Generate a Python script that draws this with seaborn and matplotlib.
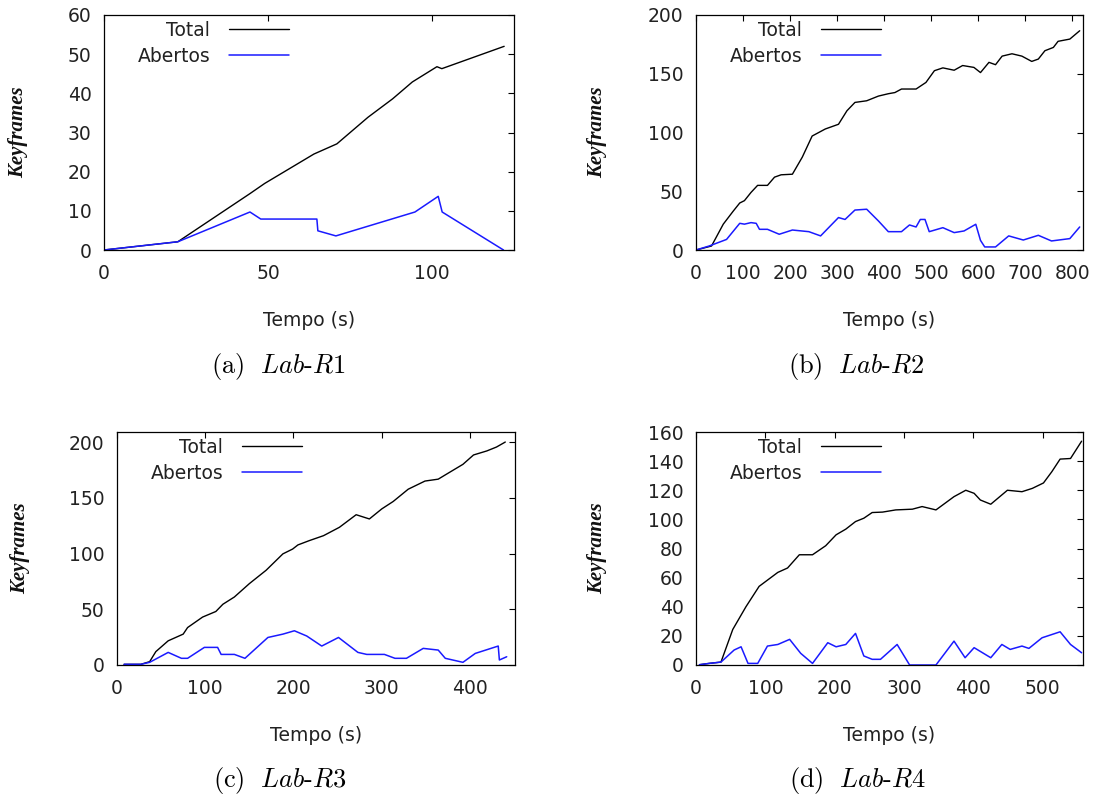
import matplotlib
matplotlib.use("Agg")
import matplotlib.pyplot as plt
import seaborn as sns
import pandas as pd

# ---------------- data ----------------
# (a) Lab-R1
a_time_total = [0, 22.5, 44.5, 49, 64, 71, 80.5, 88, 94, 101.5, 103, 122]
a_total = [0, 2.1, 14.4, 17, 24.5, 27.1, 33.9, 38.6, 42.9, 46.8, 46.3, 52]
a_time_open = [0, 22.5, 44.5, 47.8, 64.9, 65.2, 70.7, 94.8, 101.9, 103.1, 121.8]
a_open = [0, 2.1, 9.7, 7.9, 7.9, 4.9, 3.6, 9.7, 13.7, 9.7, 0]

# (b) Lab-R2
b_time_total = [0, 33, 58, 79, 93, 103, 117, 131, 152, 167, 181, 205, 226, 247, 275,
                303, 321, 338, 363, 388, 409, 423, 437, 468, 489, 507, 525, 549, 567,
                591, 605, 623, 637, 651, 672, 693, 714, 728, 742, 760, 770, 795, 816]
b_total = [0, 3.4, 22, 33, 40, 42, 49, 55, 55, 62, 64, 64.5, 79, 97, 103,
           107, 118.5, 125.6, 127, 131, 133, 134, 137, 137, 142.6, 152.6, 155, 153, 157,
           155.4, 151, 159.7, 157.7, 165, 167, 165, 160.5, 162.5, 169.6, 172.4, 177.6, 179.5, 186.6]
b_time_open = [0, 28, 65, 93, 103, 117, 128, 135, 152, 177, 205, 240, 265, 303, 317,
               338, 363, 388, 409, 437, 454, 468, 477, 487, 496, 525, 549, 570, 595,
               605, 614, 637, 665, 696, 728, 756, 795, 816]
b_open = [0, 3.4, 9, 22.7, 22, 23.3, 22.7, 17.6, 17.6, 13.4, 17, 15.6, 12, 27.6, 26,
          34, 34.7, 24.7, 15.6, 15.6, 21.3, 19.6, 26, 26, 15.6, 19, 14.8, 16.2, 21.9,
          8.2, 2.6, 2.6, 12, 8.5, 12.5, 7.7, 9.7, 19.6]

# (c) Lab-R3
c_time_total = [8, 27, 37, 44, 58, 75, 80, 97, 112, 120, 133, 150, 169, 188, 199, 205,
                218, 234, 252, 271, 286, 300, 313, 330, 349, 364, 373, 392, 404, 419, 430, 440]
c_total = [0.6, 0.6, 3, 12, 21.7, 27.7, 33.6, 43, 48, 54.5, 61, 73, 85, 99.7, 104, 107.7,
           111.6, 116, 123.5, 134.8, 131, 140, 146.7, 157.7, 165, 166.7, 171, 180, 188.4, 192, 195.5, 200]
c_time_open = [8, 27, 37, 58, 73, 80, 99, 114, 118, 133, 145, 171, 188, 201, 215, 232,
               251, 273, 283, 303, 315, 328, 347, 364, 372, 392, 406, 432, 433.3, 441.6]
c_open = [0.6, 0.6, 2.4, 11.3, 6, 6, 15.8, 15.8, 9.5, 9.5, 6, 24.7, 27.7, 30.7, 26, 17,
          24.7, 11.3, 9.5, 9.5, 6, 6, 14.9, 13.4, 6, 2.4, 10.4, 17, 4.5, 7.4]

# (d) Lab-R4
d_time_total = [5, 19, 36, 53, 72, 91, 118, 132, 149, 168, 187, 202, 216, 230, 242, 254,
                269, 288, 312, 326, 346, 372, 389, 401, 410, 425, 449, 470, 485, 501, 513,
                525, 540, 556]
d_total = [0.2, 1.1, 2, 24.4, 40, 54, 63.6, 66.6, 75.7, 75.7, 81.9, 89.4, 93.3, 98.5, 100.8,
           104.7, 105, 106.5, 107, 108.8, 106.5, 115.6, 120, 117.9, 113.3, 110.4, 120, 119,
           121.3, 125, 132.7, 141.4, 141.8, 153.7]
d_time_open = [5, 19, 36, 55, 65, 75, 89, 103, 118, 135, 151, 168, 190, 202, 216, 230, 242,
               254, 266, 290, 308, 346, 372, 388, 401, 425, 441, 453, 470, 480, 499, 525, 540, 556]
d_open = [0.2, 1.1, 2, 10.3, 12.5, 1.1, 1.1, 13, 14.1, 17.6, 8, 1.1, 15.3, 12.5, 14.1, 21.7,
          6.2, 3.9, 3.9, 14.1, 0, 0, 16.4, 5, 11.9, 5, 14.1, 10.7, 13, 11.4, 18.7, 22.8, 14.1, 8.4]

panels = [
    dict(tt=a_time_total, t=a_total, to=a_time_open, o=a_open, xlim=(0, 125), ylim=(0, 60),
         xticks=[0, 50, 100], yticks=[0, 10, 20, 30, 40, 50, 60], cap="(a)", sub="R1"),
    dict(tt=b_time_total, t=b_total, to=b_time_open, o=b_open, xlim=(0, 823), ylim=(0, 200),
         xticks=[0, 100, 200, 300, 400, 500, 600, 700, 800], yticks=[0, 50, 100, 150, 200],
         cap="(b)", sub="R2"),
    dict(tt=c_time_total, t=c_total, to=c_time_open, o=c_open, xlim=(0, 451), ylim=(0, 209),
         xticks=[0, 100, 200, 300, 400], yticks=[0, 50, 100, 150, 200], cap="(c)", sub="R3"),
    dict(tt=d_time_total, t=d_total, to=d_time_open, o=d_open, xlim=(0, 558), ylim=(0, 160),
         xticks=[0, 100, 200, 300, 400, 500], yticks=list(range(0, 161, 20)), cap="(d)", sub="R4"),
]

series_labels = ["Total", "Abertos"]
series_colors = ["black", "#1a1aff"]

# ---------------- style ----------------
sns.set_theme(style="white")
plt.rcParams["font.family"] = ["DejaVu Sans"]
plt.rcParams["mathtext.fontset"] = "cm"

W, H = 1095, 797
fig = plt.figure(figsize=(W / 100, H / 100), dpi=100)

# axes boxes in pixels: left, top, right, bottom
boxes = [(104, 15, 514, 250), (696, 15, 1083, 250), (117, 432, 515, 665), (696, 432, 1083, 665)]
ylabel_x = [18, 597, 20, 597]
cap_x = [278, 856, 280, 858]
cap_base = [373, 787]

tick_fs = 13.5
for i, (p, (l, t, r, b)) in enumerate(zip(panels, boxes)):
    ax = fig.add_axes([l / W, 1 - b / H, (r - l) / W, (b - t) / H])
    df_t = pd.DataFrame({"Tempo": p["tt"], "Keyframes": p["t"]})
    df_o = pd.DataFrame({"Tempo": p["to"], "Keyframes": p["o"]})
    sns.lineplot(data=df_t, x="Tempo", y="Keyframes", ax=ax, color=series_colors[0],
                 linewidth=1.0, label=series_labels[0], sort=False, estimator=None)
    sns.lineplot(data=df_o, x="Tempo", y="Keyframes", ax=ax, color=series_colors[1],
                 linewidth=1.1, label=series_labels[1], sort=False, estimator=None)
    ax.set_xlim(*p["xlim"])
    ax.set_ylim(*p["ylim"])
    ax.set_xticks(p["xticks"])
    ax.set_yticks(p["yticks"])
    ax.tick_params(direction="in", length=4, width=0.8, top=True, right=True,
                   labelsize=tick_fs, labelcolor="#222222", color="black", pad=10)
    ax.tick_params(axis="y", pad=9)
    for s in ax.spines.values():
        s.set_color("black")
        s.set_linewidth(0.9)
    ax.set_xlabel("Tempo (s)", fontsize=tick_fs, color="#222222", labelpad=20)
    ax.set_ylabel("")
    # y label
    fig.text(ylabel_x[i] / W, 1 - ((t + b) / 2) / H, "Keyframes", rotation=90,
             ha="center", va="center", fontsize=15, family="Liberation Serif",
             style="italic", weight="bold", color="#111111")
    # legend: text first, then line sample
    wpx = r - l
    leg = ax.legend(loc="upper right", bbox_to_anchor=(185 / wpx, 1 - 6 / (b - t)),
                    frameon=False, markerfirst=False, fontsize=tick_fs,
                    handlelength=3.2, handletextpad=1.0, labelspacing=0.36,
                    borderpad=0, borderaxespad=0)
    for txt in leg.get_texts():
        txt.set_color("#222222")
    # caption
    fig.text(cap_x[i] / W, 1 - cap_base[i // 2] / H,
             p["cap"] + r"$\ \ \mathit{Lab}$-$\mathit{" + p["sub"] + "}$",
             ha="center", va="baseline", fontsize=19, family="cmr10", color="black")

fig.savefig("out.png", dpi=100)
